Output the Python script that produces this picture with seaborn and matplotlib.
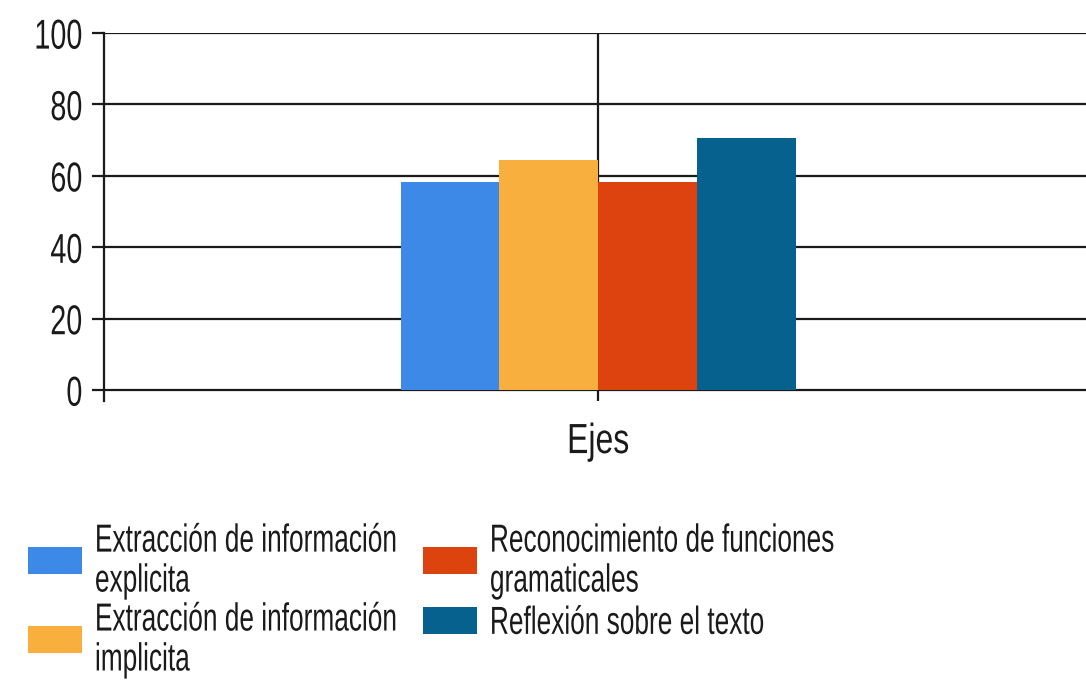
import matplotlib
matplotlib.use("Agg")
import matplotlib.pyplot as plt
import seaborn as sns
import pandas as pd
from matplotlib.patheffects import AbstractPathEffect
from matplotlib.transforms import Affine2D

# datos del grafico
categorias = ["Ejes"]
series = ["Extracción de información\nexplicita",
          "Extracción de información\nimplicita",
          "Reconocimiento de funciones\ngramaticales",
          "Reflexión sobre el texto"]
valores = [58.3, 64.4, 58.2, 70.5]
colores = ["#3C89E8", "#F9AF3E", "#DD430F", "#07618F"]
y_ticks = [0, 20, 40, 60, 80, 100]

df = pd.DataFrame({"eje": categorias * len(series), "serie": series, "valor": valores})


class Estirar(AbstractPathEffect):
    # estira el texto en vertical (como una fuente "narrow" alta),
    # respecto al centro de las mayusculas de cada linea
    def __init__(self, sy):
        super().__init__()
        self.sy = sy

    def draw_path(self, renderer, gc, tpath, affine, rgbFace=None):
        x0, y0 = affine.transform((0, 36))
        stretch = Affine2D().translate(-x0, -y0).scale(1, self.sy).translate(x0, y0)
        renderer.draw_path(gc, tpath, affine + stretch, rgbFace)


sns.set_style("white")
plt.rcParams['font.family'] = ['Liberation Sans', 'DejaVu Sans']

fig = plt.figure(figsize=(10.86, 6.81), dpi=100)
ax = fig.add_axes([0.0958, 0.4116, 0.91, 0.54])

sns.barplot(data=df, x="eje", y="valor", hue="serie", palette=colores, width=0.4,
            saturation=1, linewidth=0, ax=ax, legend=True)

ax.set_ylim(-3, 100)
ax.set_xlim(-0.5, 0.5)
ax.set_yticks(y_ticks)
ax.set_xlabel("")
ax.set_ylabel("")
ax.set_axisbelow(True)
ax.grid(True, axis="both", color="#1a1a1a", linewidth=1.6)
for s in ["top", "right", "bottom"]:
    ax.spines[s].set_visible(False)
ax.spines["left"].set_color("#1a1a1a")
ax.spines["left"].set_linewidth(1.6)
ax.tick_params(axis="y", left=True, length=8.6, width=1.6, color="#1a1a1a",
               labelsize=20.7, pad=7, labelcolor="#1a1a1a")
ax.tick_params(axis="x", bottom=False, labelsize=23, pad=15, labelcolor="#1a1a1a")
for t in ax.get_yticklabels():
    t.set_path_effects([Estirar(1.45)])
for t in ax.get_xticklabels():
    t.set_path_effects([Estirar(1.32)])

handles, labels = ax.get_legend_handles_labels()
ax.get_legend().remove()
opciones = dict(loc="upper left", frameon=False, fontsize=18.9, handlelength=2.05,
                handleheight=1.2, handletextpad=0.5, labelspacing=0.57,
                borderpad=0, borderaxespad=0, labelcolor="#1a1a1a")
ley1 = fig.legend(handles[:2], labels[:2], bbox_to_anchor=(0.0258, 0.2247), **opciones)
ley2 = fig.legend(handles[2:], labels[2:], bbox_to_anchor=(0.3895, 0.2247), **opciones)
for ley in [ley1, ley2]:
    for t in ley.get_texts():
        t.set_linespacing(1.84)
        t.set_path_effects([Estirar(1.49)])

fig.savefig("out.png", dpi=100)
